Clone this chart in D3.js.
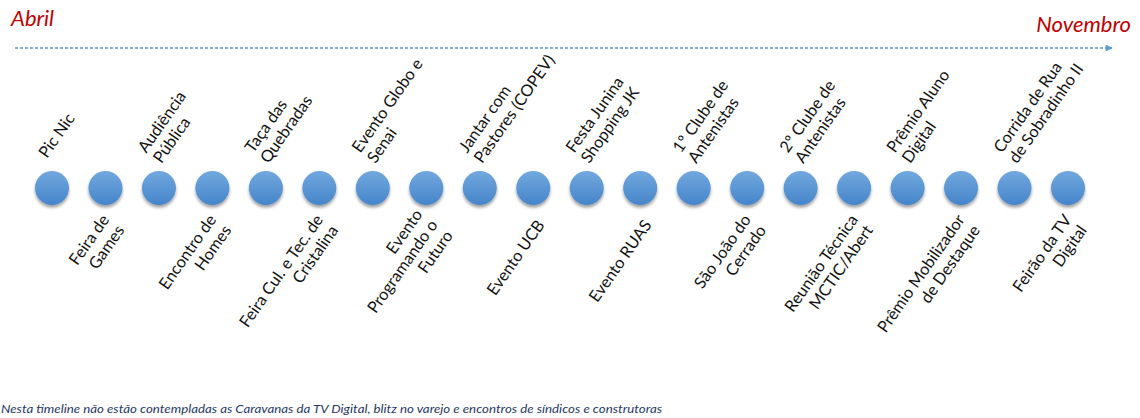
<!DOCTYPE html>
<html><head><meta charset="utf-8">
<script src="https://cdn.jsdelivr.net/npm/d3@7"></script>
<style>body{margin:0;background:#fff;overflow:hidden}</style>
</head><body><svg id="c" width="1140" height="418"></svg>
<script>
const startLabel = "Abril";
const endLabel = "Novembro";
const events = [
  "Pic Nic",
  "Feira de\nGames",
  "Audiência\nPública",
  "Encontro de\nHomes",
  "Taça das\nQuebradas",
  "Feira Cul. e Tec. de\nCristalina",
  "Evento Globo e\nSenai",
  "Evento\nProgramando o\nFuturo",
  "Jantar com\nPastores (COPEV)",
  "Evento UCB",
  "Festa Junina\nShopping JK",
  "Evento RUAS",
  "1º Clube de\nAntenistas",
  "São João do\nCerrado",
  "2º Clube de\nAntenistas",
  "Reunião Técnica\nMCTIC/Abert",
  "Prêmio Aluno\nDigital",
  "Prêmio Mobilizador\nde Destaque",
  "Corrida de Rua\nde Sobradinho II",
  "Feirão da TV\nDigital"
];
const sides = ["above","below","above","below","above","below","above","below","above","below",
               "above","below","above","below","above","below","above","below","above","below"];
const footnote = "Nesta timeline não estão contempladas as Caravanas da TV Digital, blitz no varejo e encontros de síndicos e construtoras";

const svg = d3.select("#c");
const x = d3.scalePoint().domain(d3.range(events.length)).range([52, 1068]);
const cy = 188, r = 17;
const font = "Lato, 'Open Sans', sans-serif";

const defs = svg.append("defs");
const grad = defs.append("linearGradient").attr("id","g").attr("x1",0).attr("y1",0).attr("x2",0).attr("y2",1);
grad.append("stop").attr("offset","0%").attr("stop-color","#72a8de");
grad.append("stop").attr("offset","100%").attr("stop-color","#4585ca");
const f = defs.append("filter").attr("id","sh").attr("x","-50%").attr("y","-50%").attr("width","200%").attr("height","200%");
f.append("feDropShadow").attr("dx",0).attr("dy",2.5).attr("stdDeviation",1.8).attr("flood-color","#000").attr("flood-opacity",0.38);
defs.append("marker").attr("id","arr").attr("viewBox","0 0 10 10").attr("refX",9).attr("refY",5)
  .attr("markerWidth",8).attr("markerHeight",7).attr("markerUnits","userSpaceOnUse").attr("orient","auto")
  .append("path").attr("d","M0,0 L10,5 L0,10 Z").attr("fill","#5b9bd5");

// timeline arrow
svg.append("line").attr("x1",15).attr("x2",1112).attr("y1",48).attr("y2",48)
  .attr("stroke","#5b9bd5").attr("stroke-width",1.5).attr("stroke-dasharray","3,2")
  .attr("marker-end","url(#arr)");

svg.append("text").attr("x",11).attr("y",26).text(startLabel)
  .attr("font-family",font).attr("font-style","italic").attr("font-size",22).attr("fill","#c00000");
svg.append("text").attr("x",1131).attr("y",32).attr("text-anchor","end").text(endLabel)
  .attr("font-family",font).attr("font-style","italic").attr("font-size",22).attr("fill","#c00000");

// circles
svg.append("g").selectAll("circle").data(events).join("circle")
  .attr("cx",(d,i)=>x(i)).attr("cy",cy).attr("r",r)
  .attr("fill","url(#g)").attr("filter","url(#sh)");

// labels
const ang = -55, lh = 18.5;
const lab = svg.append("g").selectAll("g").data(events).join("g")
  .attr("transform",(d,i)=>{
    const up = sides[i]==="above";
    const dx = up ? -5 : 12, dy = up ? -29 : 37;
    return `translate(${x(i)+dx},${cy+dy}) rotate(${ang})`;
  });
lab.each(function(d,i){
  const lines = d.split("\n");
  const up = sides[i]==="above";
  d3.select(this).selectAll("text").data(lines).join("text")
    .attr("x",0).attr("y",(l,j)=>(j-(lines.length-1)/2)*lh)
    .attr("text-anchor", up ? "start" : "end")
    .attr("font-family",font).attr("font-size",16.3).attr("fill","#111")
    .text(l=>l);
});

svg.append("text").attr("x",1).attr("y",413).text(footnote)
  .attr("font-family",font).attr("font-style","italic").attr("font-size",11.5).attr("fill","#1f3864")
  .attr("textLength",661).attr("lengthAdjust","spacingAndGlyphs");
</script></body></html>
